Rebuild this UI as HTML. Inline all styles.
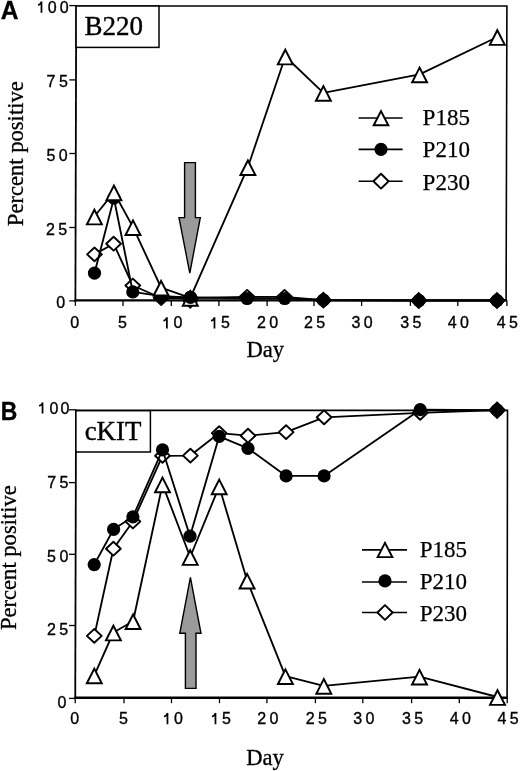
<!DOCTYPE html>
<html><head><meta charset="utf-8"><title>B220 / cKIT percent positive vs day</title><style>
html,body{margin:0;padding:0;background:#fff;}
svg{display:block;will-change:transform;}
.tk{font-family:"Liberation Sans",sans-serif;font-size:16.0px;fill:#000;stroke:#000;stroke-width:0.35px;}
.ttl{font-family:"Liberation Serif",serif;font-size:27px;fill:#000;stroke:#000;stroke-width:0.4px;}
.ttl2{font-family:"Liberation Serif",serif;font-size:26.9px;fill:#000;stroke:#000;stroke-width:0.4px;}
.lab{font-family:"Liberation Serif",serif;font-size:22.6px;fill:#000;stroke:#000;stroke-width:0.3px;}
.leg{font-family:"Liberation Serif",serif;font-size:23px;fill:#000;stroke:#000;stroke-width:0.25px;}
.pl{font-family:"Liberation Sans",sans-serif;font-size:25.5px;font-weight:bold;fill:#000;stroke:#000;stroke-width:0.3px;}
</style></head><body>
<svg width="520" height="771" viewBox="0 0 520 771">
<rect width="520" height="771" fill="#fff"/>
<path d="M76.20,6.00 L506.90,6.00 L506.10,300.40" fill="none" stroke="#000" stroke-width="1.6" stroke-linejoin="miter"/>
<line x1="76.20" y1="5.20" x2="75.40" y2="301.40" stroke="#000" stroke-width="1.8"/>
<line x1="74.50" y1="300.40" x2="506.90" y2="300.40" stroke="#000" stroke-width="2.4"/>
<line x1="69.30" y1="5.60" x2="76.20" y2="5.60" stroke="#000" stroke-width="1.3"/>
<line x1="69.30" y1="79.90" x2="76.00" y2="79.90" stroke="#000" stroke-width="1.3"/>
<line x1="69.30" y1="153.50" x2="75.80" y2="153.50" stroke="#000" stroke-width="1.3"/>
<line x1="69.30" y1="227.50" x2="75.60" y2="227.50" stroke="#000" stroke-width="1.3"/>
<line x1="69.30" y1="300.90" x2="75.40" y2="300.90" stroke="#000" stroke-width="1.3"/>
<line x1="75.40" y1="300.40" x2="75.40" y2="305.90" stroke="#000" stroke-width="1.3"/>
<line x1="123.00" y1="300.40" x2="123.00" y2="305.90" stroke="#000" stroke-width="1.3"/>
<line x1="171.30" y1="300.40" x2="171.30" y2="305.90" stroke="#000" stroke-width="1.3"/>
<line x1="218.90" y1="300.40" x2="218.90" y2="305.90" stroke="#000" stroke-width="1.3"/>
<line x1="267.10" y1="300.40" x2="267.10" y2="305.90" stroke="#000" stroke-width="1.3"/>
<line x1="314.00" y1="300.40" x2="314.00" y2="305.90" stroke="#000" stroke-width="1.3"/>
<line x1="361.60" y1="300.40" x2="361.60" y2="305.90" stroke="#000" stroke-width="1.3"/>
<line x1="410.40" y1="300.40" x2="410.40" y2="305.90" stroke="#000" stroke-width="1.3"/>
<line x1="457.80" y1="300.40" x2="457.80" y2="305.90" stroke="#000" stroke-width="1.3"/>
<line x1="506.90" y1="300.40" x2="506.90" y2="305.90" stroke="#000" stroke-width="1.3"/>
<path d="M40.60,1.60 H42.35 V12.80 H40.60 V4.80 Q39.35,5.70 37.95,5.80 V4.20 Q40.25,3.80 40.60,1.60 Z" fill="#000"/>
<text transform="translate(47.65,12.78) scale(1,1.0)" class="tk">0</text>
<text transform="translate(59.75,12.78) scale(1,1.0)" class="tk">0</text>
<text transform="translate(46.44,87.38) scale(1,1.0)" class="tk">7</text>
<text transform="translate(58.92,87.38) scale(1,1.0)" class="tk">5</text>
<text transform="translate(46.62,160.78) scale(1,1.0)" class="tk">5</text>
<text transform="translate(58.75,160.78) scale(1,1.0)" class="tk">0</text>
<text transform="translate(46.05,234.68) scale(1,1.0)" class="tk">2</text>
<text transform="translate(58.17,234.68) scale(1,1.0)" class="tk">5</text>
<text transform="translate(56.30,308.28) scale(1,1.0)" class="tk">0</text>
<text transform="translate(70.35,328.48) scale(1,1.0)" class="tk">0</text>
<text transform="translate(117.97,328.48) scale(1,1.0)" class="tk">5</text>
<path d="M166.00,317.30 H167.75 V328.50 H166.00 V320.50 Q164.75,321.40 163.35,321.50 V319.90 Q165.65,319.50 166.00,317.30 Z" fill="#000"/>
<text transform="translate(173.50,328.48) scale(1,1.0)" class="tk">0</text>
<path d="M213.60,317.30 H215.35 V328.50 H213.60 V320.50 Q212.35,321.40 210.95,321.50 V319.90 Q213.25,319.50 213.60,317.30 Z" fill="#000"/>
<text transform="translate(221.12,328.48) scale(1,1.0)" class="tk">5</text>
<text transform="translate(257.00,328.48) scale(1,1.0)" class="tk">2</text>
<text transform="translate(269.30,328.48) scale(1,1.0)" class="tk">0</text>
<text transform="translate(303.90,328.48) scale(1,1.0)" class="tk">2</text>
<text transform="translate(316.22,328.48) scale(1,1.0)" class="tk">5</text>
<text transform="translate(351.55,328.48) scale(1,1.0)" class="tk">3</text>
<text transform="translate(363.80,328.48) scale(1,1.0)" class="tk">0</text>
<text transform="translate(400.35,328.48) scale(1,1.0)" class="tk">3</text>
<text transform="translate(412.62,328.48) scale(1,1.0)" class="tk">5</text>
<text transform="translate(447.75,328.48) scale(1,1.0)" class="tk">4</text>
<text transform="translate(460.00,328.48) scale(1,1.0)" class="tk">0</text>
<text transform="translate(496.85,328.48) scale(1,1.0)" class="tk">4</text>
<text transform="translate(509.12,328.48) scale(1,1.0)" class="tk">5</text>
<rect x="76.1" y="6" width="82.9" height="41.4" fill="#fff" stroke="#000" stroke-width="1.5"/>
<text x="84.5" y="35.3" class="ttl">B220</text>
<text x="0" y="0" class="lab" text-anchor="middle" transform="translate(23.0,153.7) rotate(-90)">Percent positive</text>
<text x="265.3" y="357.3" class="lab" text-anchor="middle">Day</text>
<path d="M184.6,162.6 H195.4 V217.6 H200.3 L189.8,273.2 L179.0,217.6 H184.6 Z" fill="#9b9b9b" stroke="#000" stroke-width="1.4" stroke-linejoin="miter"/>
<polyline points="94.50,254.40 113.60,243.70 132.80,285.50 161.20,298.00 190.30,298.00 247.10,296.80 284.50,296.80 323.40,300.20 418.80,300.50 497.00,300.50" fill="none" stroke="#000" stroke-width="1.85" stroke-linejoin="round"/>
<path d="M94.50,247.50 L101.90,254.40 L94.50,261.30 L87.10,254.40 Z" fill="#fff" stroke="#000" stroke-width="1.9" stroke-linejoin="round"/>
<path d="M113.60,236.80 L121.00,243.70 L113.60,250.60 L106.20,243.70 Z" fill="#fff" stroke="#000" stroke-width="1.9" stroke-linejoin="round"/>
<path d="M132.80,278.60 L140.20,285.50 L132.80,292.40 L125.40,285.50 Z" fill="#fff" stroke="#000" stroke-width="1.9" stroke-linejoin="round"/>
<path d="M161.20,291.10 L168.60,298.00 L161.20,304.90 L153.80,298.00 Z" fill="#fff" stroke="#000" stroke-width="1.9" stroke-linejoin="round"/>
<path d="M190.30,291.10 L197.70,298.00 L190.30,304.90 L182.90,298.00 Z" fill="#fff" stroke="#000" stroke-width="1.9" stroke-linejoin="round"/>
<path d="M247.10,289.90 L254.50,296.80 L247.10,303.70 L239.70,296.80 Z" fill="#fff" stroke="#000" stroke-width="1.9" stroke-linejoin="round"/>
<path d="M284.50,289.90 L291.90,296.80 L284.50,303.70 L277.10,296.80 Z" fill="#fff" stroke="#000" stroke-width="1.9" stroke-linejoin="round"/>
<path d="M323.40,293.30 L330.80,300.20 L323.40,307.10 L316.00,300.20 Z" fill="#fff" stroke="#000" stroke-width="1.9" stroke-linejoin="round"/>
<path d="M418.80,293.60 L426.20,300.50 L418.80,307.40 L411.40,300.50 Z" fill="#fff" stroke="#000" stroke-width="1.9" stroke-linejoin="round"/>
<path d="M497.00,293.60 L504.40,300.50 L497.00,307.40 L489.60,300.50 Z" fill="#fff" stroke="#000" stroke-width="1.9" stroke-linejoin="round"/>
<polyline points="94.50,273.10 113.90,198.20 132.80,291.90 161.20,296.20 190.50,297.40 247.10,298.50 284.70,298.50 323.40,300.00 419.00,300.50 497.00,300.50" fill="none" stroke="#000" stroke-width="1.85" stroke-linejoin="round"/>
<path d="M161.20,290.00 L168.60,297.40 L161.20,304.80 L153.80,297.40 Z" fill="#000" stroke="#000" stroke-width="1.6" stroke-linejoin="miter"/>
<path d="M190.30,293.40 L197.50,300.60 L190.30,307.80 L183.10,300.60 Z" fill="#000" stroke="#000" stroke-width="1.6" stroke-linejoin="miter"/>
<circle cx="94.50" cy="273.10" r="6.6" fill="#000"/>
<circle cx="113.90" cy="198.20" r="6.6" fill="#000"/>
<circle cx="132.80" cy="291.90" r="6.6" fill="#000"/>
<circle cx="161.20" cy="296.20" r="6.6" fill="#000"/>
<circle cx="190.50" cy="297.40" r="6.6" fill="#000"/>
<circle cx="247.10" cy="298.50" r="6.6" fill="#000"/>
<circle cx="284.70" cy="298.50" r="6.6" fill="#000"/>
<circle cx="323.40" cy="300.00" r="6.6" fill="#000"/>
<circle cx="419.00" cy="300.50" r="6.6" fill="#000"/>
<circle cx="497.00" cy="300.50" r="6.6" fill="#000"/>
<polyline points="94.40,216.50 113.90,192.30 133.00,227.10 161.10,287.70 190.30,297.80 247.90,167.20 285.30,56.50 323.40,92.90 419.60,74.40 497.30,37.00" fill="none" stroke="#000" stroke-width="1.85" stroke-linejoin="round"/>
<path d="M94.40,209.75 L101.85,224.35 L86.95,224.35 Z" fill="#fff" stroke="#000" stroke-width="1.95" stroke-linejoin="miter"/>
<path d="M113.90,185.55 L121.35,200.15 L106.45,200.15 Z" fill="#fff" stroke="#000" stroke-width="1.95" stroke-linejoin="miter"/>
<path d="M133.00,220.35 L140.45,234.95 L125.55,234.95 Z" fill="#fff" stroke="#000" stroke-width="1.95" stroke-linejoin="miter"/>
<path d="M161.10,280.95 L168.55,295.55 L153.65,295.55 Z" fill="#fff" stroke="#000" stroke-width="1.95" stroke-linejoin="miter"/>
<path d="M190.30,291.05 L197.75,305.65 L182.85,305.65 Z" fill="#fff" stroke="#000" stroke-width="1.95" stroke-linejoin="miter"/>
<path d="M247.90,160.45 L255.35,175.05 L240.45,175.05 Z" fill="#fff" stroke="#000" stroke-width="1.95" stroke-linejoin="miter"/>
<path d="M285.30,49.75 L292.75,64.35 L277.85,64.35 Z" fill="#fff" stroke="#000" stroke-width="1.95" stroke-linejoin="miter"/>
<path d="M323.40,86.15 L330.85,100.75 L315.95,100.75 Z" fill="#fff" stroke="#000" stroke-width="1.95" stroke-linejoin="miter"/>
<path d="M419.60,67.65 L427.05,82.25 L412.15,82.25 Z" fill="#fff" stroke="#000" stroke-width="1.95" stroke-linejoin="miter"/>
<path d="M497.30,30.25 L504.75,44.85 L489.85,44.85 Z" fill="#fff" stroke="#000" stroke-width="1.95" stroke-linejoin="miter"/>
<circle cx="190.50" cy="297.40" r="6.6" fill="#000"/>
<path d="M323.40,292.70 L330.90,300.20 L323.40,307.70 L315.90,300.20 Z" fill="#000" stroke="#000" stroke-width="1.6" stroke-linejoin="miter"/>
<path d="M418.80,293.00 L426.30,300.50 L418.80,308.00 L411.30,300.50 Z" fill="#000" stroke="#000" stroke-width="1.6" stroke-linejoin="miter"/>
<path d="M497.00,293.00 L504.50,300.50 L497.00,308.00 L489.50,300.50 Z" fill="#000" stroke="#000" stroke-width="1.6" stroke-linejoin="miter"/>
<line x1="358.60" y1="118.00" x2="402.60" y2="118.00" stroke="#000" stroke-width="1.65"/>
<line x1="358.60" y1="149.30" x2="402.60" y2="149.30" stroke="#000" stroke-width="1.65"/>
<line x1="358.60" y1="181.20" x2="402.60" y2="181.20" stroke="#000" stroke-width="1.65"/>
<path d="M381.00,111.10 L388.30,125.30 L373.70,125.30 Z" fill="#fff" stroke="#000" stroke-width="1.95" stroke-linejoin="miter"/>
<circle cx="381.00" cy="149.30" r="6.6" fill="#000"/>
<path d="M381.00,173.80 L388.60,181.20 L381.00,188.60 L373.40,181.20 Z" fill="#fff" stroke="#000" stroke-width="1.9" stroke-linejoin="round"/>
<text x="422.6" y="125.30" class="leg">P185</text>
<text x="422.6" y="157.00" class="leg">P210</text>
<text x="422.6" y="189.60" class="leg">P230</text>
<path d="M76.00,410.40 L507.50,410.40 L507.10,697.70" fill="none" stroke="#000" stroke-width="1.6" stroke-linejoin="miter"/>
<line x1="76.00" y1="409.60" x2="75.25" y2="698.70" stroke="#000" stroke-width="1.8"/>
<line x1="74.35" y1="697.70" x2="507.90" y2="697.70" stroke="#000" stroke-width="2.4"/>
<line x1="69.00" y1="409.80" x2="76.00" y2="409.80" stroke="#000" stroke-width="1.3"/>
<line x1="69.00" y1="482.60" x2="75.81" y2="482.60" stroke="#000" stroke-width="1.3"/>
<line x1="69.00" y1="554.30" x2="75.62" y2="554.30" stroke="#000" stroke-width="1.3"/>
<line x1="69.00" y1="625.50" x2="75.44" y2="625.50" stroke="#000" stroke-width="1.3"/>
<line x1="69.00" y1="698.40" x2="75.25" y2="698.40" stroke="#000" stroke-width="1.3"/>
<line x1="75.20" y1="697.70" x2="75.20" y2="703.20" stroke="#000" stroke-width="1.3"/>
<line x1="124.00" y1="697.70" x2="124.00" y2="703.20" stroke="#000" stroke-width="1.3"/>
<line x1="171.50" y1="697.70" x2="171.50" y2="703.20" stroke="#000" stroke-width="1.3"/>
<line x1="219.50" y1="697.70" x2="219.50" y2="703.20" stroke="#000" stroke-width="1.3"/>
<line x1="266.90" y1="697.70" x2="266.90" y2="703.20" stroke="#000" stroke-width="1.3"/>
<line x1="315.40" y1="697.70" x2="315.40" y2="703.20" stroke="#000" stroke-width="1.3"/>
<line x1="362.80" y1="697.70" x2="362.80" y2="703.20" stroke="#000" stroke-width="1.3"/>
<line x1="411.60" y1="697.70" x2="411.60" y2="703.20" stroke="#000" stroke-width="1.3"/>
<line x1="459.30" y1="697.70" x2="459.30" y2="703.20" stroke="#000" stroke-width="1.3"/>
<line x1="507.20" y1="697.70" x2="507.20" y2="703.20" stroke="#000" stroke-width="1.3"/>
<path d="M41.65,402.40 H43.40 V413.60 H41.65 V405.60 Q40.40,406.50 39.00,406.60 V405.00 Q41.30,404.60 41.65,402.40 Z" fill="#000"/>
<text transform="translate(49.45,413.58) scale(1,1.0)" class="tk">0</text>
<text transform="translate(60.55,413.58) scale(1,1.0)" class="tk">0</text>
<text transform="translate(47.29,488.18) scale(1,1.0)" class="tk">7</text>
<text transform="translate(59.62,488.18) scale(1,1.0)" class="tk">5</text>
<text transform="translate(46.97,561.68) scale(1,1.0)" class="tk">5</text>
<text transform="translate(59.60,561.68) scale(1,1.0)" class="tk">0</text>
<text transform="translate(46.95,634.68) scale(1,1.0)" class="tk">2</text>
<text transform="translate(59.27,634.68) scale(1,1.0)" class="tk">5</text>
<text transform="translate(57.60,708.48) scale(1,1.0)" class="tk">0</text>
<text transform="translate(70.15,724.28) scale(1,1.0)" class="tk">0</text>
<text transform="translate(118.97,724.28) scale(1,1.0)" class="tk">5</text>
<path d="M166.60,713.10 H168.35 V724.30 H166.60 V716.30 Q165.35,717.20 163.95,717.30 V715.70 Q166.25,715.30 166.60,713.10 Z" fill="#000"/>
<text transform="translate(174.10,724.28) scale(1,1.0)" class="tk">0</text>
<path d="M214.60,713.10 H216.35 V724.30 H214.60 V716.30 Q213.35,717.20 211.95,717.30 V715.70 Q214.25,715.30 214.60,713.10 Z" fill="#000"/>
<text transform="translate(222.12,724.28) scale(1,1.0)" class="tk">5</text>
<text transform="translate(257.20,724.28) scale(1,1.0)" class="tk">2</text>
<text transform="translate(269.50,724.28) scale(1,1.0)" class="tk">0</text>
<text transform="translate(305.70,724.28) scale(1,1.0)" class="tk">2</text>
<text transform="translate(318.02,724.28) scale(1,1.0)" class="tk">5</text>
<text transform="translate(353.15,724.28) scale(1,1.0)" class="tk">3</text>
<text transform="translate(365.40,724.28) scale(1,1.0)" class="tk">0</text>
<text transform="translate(401.95,724.28) scale(1,1.0)" class="tk">3</text>
<text transform="translate(414.22,724.28) scale(1,1.0)" class="tk">5</text>
<text transform="translate(449.65,724.28) scale(1,1.0)" class="tk">4</text>
<text transform="translate(461.90,724.28) scale(1,1.0)" class="tk">0</text>
<text transform="translate(497.55,724.28) scale(1,1.0)" class="tk">4</text>
<text transform="translate(509.82,724.28) scale(1,1.0)" class="tk">5</text>
<rect x="75.9" y="410.7" width="74.5" height="41.3" fill="#fff" stroke="#000" stroke-width="1.5"/>
<text x="84.7" y="440.0" class="ttl2">cKIT</text>
<text x="0" y="0" class="lab" text-anchor="middle" transform="translate(16.4,557.6) rotate(-90)">Percent positive</text>
<text x="265.0" y="765.4" class="lab" text-anchor="middle">Day</text>
<path d="M185.4,688.4 H196.0 V633.3 H201.0 L190.4,577.4 L179.8,633.3 H185.4 Z" fill="#9b9b9b" stroke="#000" stroke-width="1.4" stroke-linejoin="miter"/>
<polyline points="94.30,635.90 113.40,548.70 132.90,521.50 162.50,455.80 190.40,455.60 219.20,433.10 248.00,435.70 286.10,432.10 324.10,417.30 420.20,412.80 497.10,410.00" fill="none" stroke="#000" stroke-width="1.85" stroke-linejoin="round"/>
<path d="M94.30,629.00 L101.70,635.90 L94.30,642.80 L86.90,635.90 Z" fill="#fff" stroke="#000" stroke-width="1.9" stroke-linejoin="round"/>
<path d="M113.40,541.80 L120.80,548.70 L113.40,555.60 L106.00,548.70 Z" fill="#fff" stroke="#000" stroke-width="1.9" stroke-linejoin="round"/>
<path d="M132.90,514.60 L140.30,521.50 L132.90,528.40 L125.50,521.50 Z" fill="#fff" stroke="#000" stroke-width="1.9" stroke-linejoin="round"/>
<path d="M162.50,448.90 L169.90,455.80 L162.50,462.70 L155.10,455.80 Z" fill="#fff" stroke="#000" stroke-width="1.9" stroke-linejoin="round"/>
<path d="M190.40,448.70 L197.80,455.60 L190.40,462.50 L183.00,455.60 Z" fill="#fff" stroke="#000" stroke-width="1.9" stroke-linejoin="round"/>
<path d="M219.20,426.20 L226.60,433.10 L219.20,440.00 L211.80,433.10 Z" fill="#fff" stroke="#000" stroke-width="1.9" stroke-linejoin="round"/>
<path d="M248.00,428.80 L255.40,435.70 L248.00,442.60 L240.60,435.70 Z" fill="#fff" stroke="#000" stroke-width="1.9" stroke-linejoin="round"/>
<path d="M286.10,425.20 L293.50,432.10 L286.10,439.00 L278.70,432.10 Z" fill="#fff" stroke="#000" stroke-width="1.9" stroke-linejoin="round"/>
<path d="M324.10,410.40 L331.50,417.30 L324.10,424.20 L316.70,417.30 Z" fill="#fff" stroke="#000" stroke-width="1.9" stroke-linejoin="round"/>
<path d="M420.20,405.90 L427.60,412.80 L420.20,419.70 L412.80,412.80 Z" fill="#fff" stroke="#000" stroke-width="1.9" stroke-linejoin="round"/>
<path d="M497.10,403.10 L504.50,410.00 L497.10,416.90 L489.70,410.00 Z" fill="#fff" stroke="#000" stroke-width="1.9" stroke-linejoin="round"/>
<polyline points="94.20,564.60 113.60,529.30 132.90,516.80 162.50,449.80 190.00,536.20 219.20,436.30 248.00,448.40 286.10,475.90 324.10,475.90 420.20,409.70 497.10,410.20" fill="none" stroke="#000" stroke-width="1.85" stroke-linejoin="round"/>
<circle cx="94.20" cy="564.60" r="6.6" fill="#000"/>
<circle cx="113.60" cy="529.30" r="6.6" fill="#000"/>
<circle cx="132.90" cy="516.80" r="6.6" fill="#000"/>
<circle cx="162.50" cy="449.80" r="6.6" fill="#000"/>
<circle cx="190.00" cy="536.20" r="6.6" fill="#000"/>
<circle cx="219.20" cy="436.30" r="6.6" fill="#000"/>
<circle cx="248.00" cy="448.40" r="6.6" fill="#000"/>
<circle cx="286.10" cy="475.90" r="6.6" fill="#000"/>
<circle cx="324.10" cy="475.90" r="6.6" fill="#000"/>
<circle cx="420.20" cy="409.70" r="6.6" fill="#000"/>
<circle cx="497.10" cy="410.20" r="6.6" fill="#000"/>
<polyline points="94.30,675.40 113.40,632.50 133.10,621.20 162.50,484.40 190.20,557.00 219.20,486.40 247.10,580.60 285.40,676.10 323.80,685.80 419.50,676.60 497.50,697.00" fill="none" stroke="#000" stroke-width="1.85" stroke-linejoin="round"/>
<path d="M94.30,668.65 L101.75,683.25 L86.85,683.25 Z" fill="#fff" stroke="#000" stroke-width="1.95" stroke-linejoin="miter"/>
<path d="M113.40,625.75 L120.85,640.35 L105.95,640.35 Z" fill="#fff" stroke="#000" stroke-width="1.95" stroke-linejoin="miter"/>
<path d="M133.10,614.45 L140.55,629.05 L125.65,629.05 Z" fill="#fff" stroke="#000" stroke-width="1.95" stroke-linejoin="miter"/>
<path d="M162.50,477.65 L169.95,492.25 L155.05,492.25 Z" fill="#fff" stroke="#000" stroke-width="1.95" stroke-linejoin="miter"/>
<path d="M190.20,550.25 L197.65,564.85 L182.75,564.85 Z" fill="#fff" stroke="#000" stroke-width="1.95" stroke-linejoin="miter"/>
<path d="M219.20,479.65 L226.65,494.25 L211.75,494.25 Z" fill="#fff" stroke="#000" stroke-width="1.95" stroke-linejoin="miter"/>
<path d="M247.10,573.85 L254.55,588.45 L239.65,588.45 Z" fill="#fff" stroke="#000" stroke-width="1.95" stroke-linejoin="miter"/>
<path d="M285.40,669.35 L292.85,683.95 L277.95,683.95 Z" fill="#fff" stroke="#000" stroke-width="1.95" stroke-linejoin="miter"/>
<path d="M323.80,679.05 L331.25,693.65 L316.35,693.65 Z" fill="#fff" stroke="#000" stroke-width="1.95" stroke-linejoin="miter"/>
<path d="M419.50,669.85 L426.95,684.45 L412.05,684.45 Z" fill="#fff" stroke="#000" stroke-width="1.95" stroke-linejoin="miter"/>
<path d="M497.50,690.25 L504.95,704.85 L490.05,704.85 Z" fill="#fff" stroke="#000" stroke-width="1.95" stroke-linejoin="miter"/>
<path d="M497.10,402.40 L504.90,410.20 L497.10,418.00 L489.30,410.20 Z" fill="#000" stroke="#000" stroke-width="1.6" stroke-linejoin="miter"/>
<line x1="362.00" y1="549.80" x2="407.00" y2="549.80" stroke="#000" stroke-width="1.65"/>
<line x1="362.00" y1="582.00" x2="407.00" y2="582.00" stroke="#000" stroke-width="1.65"/>
<line x1="362.00" y1="612.50" x2="407.00" y2="612.50" stroke="#000" stroke-width="1.65"/>
<path d="M385.00,542.90 L392.30,557.10 L377.70,557.10 Z" fill="#fff" stroke="#000" stroke-width="1.95" stroke-linejoin="miter"/>
<circle cx="385.00" cy="580.90" r="6.6" fill="#000"/>
<path d="M385.00,605.10 L392.60,612.50 L385.00,619.90 L377.40,612.50 Z" fill="#fff" stroke="#000" stroke-width="1.9" stroke-linejoin="round"/>
<text x="419.8" y="557.00" class="leg">P185</text>
<text x="419.8" y="589.30" class="leg">P210</text>
<text x="419.8" y="621.30" class="leg">P230</text>
<text transform="translate(0.75,18.75) scale(0.965,1)" class="pl">A</text>
<text transform="translate(0.7,419.7) scale(0.9,1)" class="pl">B</text>
</svg>
</body></html>
